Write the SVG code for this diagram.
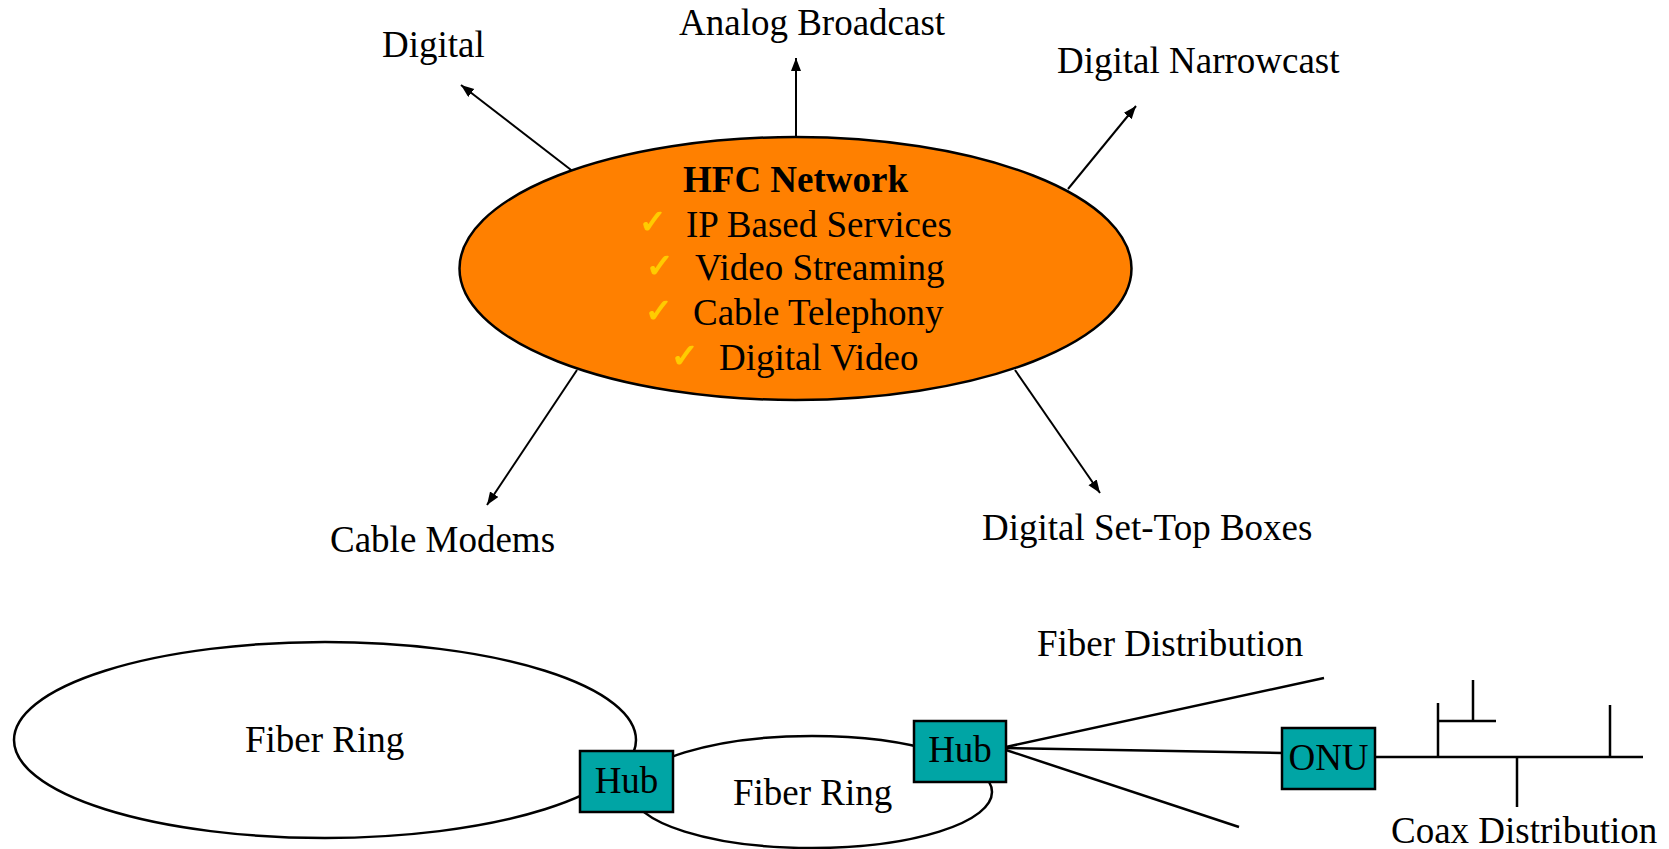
<svg xmlns="http://www.w3.org/2000/svg" width="1669" height="849" viewBox="0 0 1669 849">
<defs>
<style>
text{font-family:"Liberation Serif","Times New Roman",serif;font-size:37px;fill:#000}
.b{font-weight:bold}
.chk{font-family:"DejaVu Sans",sans-serif;font-size:33px;fill:#FFCC00;stroke:#FFCC00;stroke-width:1.2}
.ln{stroke:#000;stroke-width:2;fill:none}
.th{stroke:#000;stroke-width:2.5;fill:none}
.box{fill:#00A5A5;stroke:#000;stroke-width:2.5}
.m{text-anchor:middle}
</style>
<marker id="ah" markerUnits="userSpaceOnUse" markerWidth="14" markerHeight="11" refX="13" refY="5" orient="auto">
<path d="M0,0 L13,5 L0,10 z" fill="#000"/>
</marker>
</defs>
<rect width="1669" height="849" fill="#fff"/>
<g id="connectors">
<line class="ln" x1="575" y1="173" x2="461" y2="85" marker-end="url(#ah)"/>
<line class="ln" x1="796" y1="137" x2="796" y2="58" marker-end="url(#ah)"/>
<line class="ln" x1="1068" y1="189" x2="1136" y2="106" marker-end="url(#ah)"/>
<line class="ln" x1="577" y1="370" x2="487" y2="505" marker-end="url(#ah)"/>
<line class="ln" x1="1015" y1="370" x2="1100" y2="493" marker-end="url(#ah)"/>
<line class="th" x1="1006" y1="747" x2="1324" y2="678"/>
<line class="th" x1="1006" y1="748" x2="1282" y2="753"/>
<line class="th" x1="1006" y1="750" x2="1239" y2="827"/>
<g id="coax">
<line class="th" x1="1375" y1="757" x2="1643" y2="757"/>
<line class="th" x1="1438" y1="757" x2="1438" y2="703"/>
<line class="th" x1="1438" y1="721" x2="1496" y2="721"/>
<line class="th" x1="1473" y1="721" x2="1473" y2="680"/>
<line class="th" x1="1517" y1="757" x2="1517" y2="807"/>
<line class="th" x1="1610" y1="757" x2="1610" y2="705"/>
</g>
</g>
<g id="hfc">
<ellipse cx="795.5" cy="268.5" rx="336" ry="131.5" fill="#FF8000" stroke="#000" stroke-width="2.5"/>
<text class="b" x="683" y="192">HFC Network</text>
<text class="chk" x="639" y="233">✓</text>
<text x="686" y="237">IP Based Services</text>
<text class="chk" x="646" y="277">✓</text>
<text x="695" y="280">Video Streaming</text>
<text class="chk" x="645" y="322">✓</text>
<text x="693" y="325">Cable Telephony</text>
<text class="chk" x="671" y="367">✓</text>
<text x="719" y="370">Digital Video</text>
</g>
<g id="lbl-digital"><text x="382" y="57">Digital</text></g>
<g id="lbl-analog"><text x="679" y="35">Analog Broadcast</text></g>
<g id="lbl-narrowcast"><text x="1057" y="73">Digital Narrowcast</text></g>
<g id="lbl-modems"><text x="330" y="552">Cable Modems</text></g>
<g id="lbl-settop"><text x="982" y="540">Digital Set-Top Boxes</text></g>
<g id="ring1">
<ellipse cx="325" cy="740" rx="311" ry="98" fill="none" stroke="#000" stroke-width="2.5"/>
<text x="245" y="752">Fiber Ring</text>
</g>
<g id="ring2">
<ellipse cx="812" cy="792" rx="180" ry="56" fill="none" stroke="#000" stroke-width="2.5"/>
<text x="733" y="805">Fiber Ring</text>
</g>
<g id="hub1">
<rect class="box" x="580" y="751" width="93" height="61"/>
<text class="m" x="626.5" y="793">Hub</text>
</g>
<g id="hub2">
<rect class="box" x="914" y="721" width="92" height="61"/>
<text class="m" x="960" y="762">Hub</text>
</g>
<g id="onu">
<rect class="box" x="1282" y="728" width="93" height="61"/>
<text class="m" x="1328.5" y="770">ONU</text>
</g>
<g id="lbl-fiberdist"><text x="1037" y="656">Fiber Distribution</text></g>
<g id="lbl-coaxdist"><text x="1391" y="843">Coax Distribution</text></g>
</svg>
